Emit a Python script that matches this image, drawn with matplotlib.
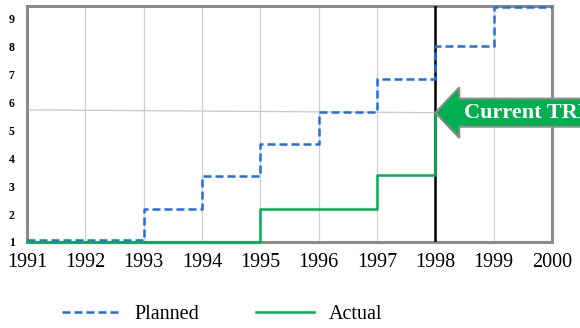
import matplotlib
matplotlib.use("Agg")
import matplotlib.pyplot as plt
from matplotlib.patches import Polygon
from matplotlib.lines import Line2D

# Years on the x axis
years = [1991, 1992, 1993, 1994, 1995, 1996, 1997, 1998, 1999, 2000]
year_labels = [str(y) for y in years]
level_ticks = [1, 2, 3, 4, 5, 6, 7, 8, 9]

# Planned TRL: step changes (steps-post)
planned_x = [1991, 1993, 1994, 1995, 1996, 1997, 1998, 1999, 2000]
planned_y = [1.07, 2.18, 3.37, 4.51, 5.64, 6.83, 8.0, 9.38, 9.38]

# Actual TRL: step changes (steps-post)
actual_x = [1991, 1995, 1997, 1998]
actual_y = [1.0, 2.18, 3.39, 5.62]

current_year = 1998
current_label = "Current TRL"

blue = "#1f6fe0"
green = "#00b050"
serif = "Liberation Serif"

fig = plt.figure(figsize=(5.8, 3.28), dpi=100)
ax = fig.add_axes([27 / 580, 1 - 242 / 328, 525 / 580, 236 / 328])

ax.set_xlim(1991, 2000)
ax.set_ylim(1, 9.43)

ax.set_xticks(years)
ax.set_xticklabels(year_labels, fontfamily=serif, fontsize=14.5)
ax.set_yticks(level_ticks)
ax.set_yticklabels([str(v) for v in level_ticks], fontfamily=serif,
                   fontsize=8.5, fontweight="bold")
ax.tick_params(axis="both", length=0)
ax.tick_params(axis="x", pad=8)
ax.tick_params(axis="y", pad=9)

ax.grid(axis="x", color="#cfcfcf", linewidth=0.9)
ax.set_axisbelow(True)
for s in ax.spines.values():
    s.set_color("#8c8c8c")
    s.set_linewidth(2.2)

# thin reference line at the current level
ax.plot([1991, current_year], [5.72, actual_y[-1]], color="#c8c8c8",
        linewidth=0.9, zorder=1)

ax.axvline(current_year, color="black", linewidth=1.8, zorder=3)

ax.plot(planned_x, planned_y, drawstyle="steps-post", color=blue,
        linewidth=1.8, linestyle=(0, (3.2, 1.6)), zorder=4, clip_on=False)
ax.plot(actual_x, actual_y, drawstyle="steps-post", color=green,
        linewidth=1.8, zorder=5, clip_on=False)

# Arrow pointing at the current level
tip_x, tip_y = current_year, actual_y[-1]
head_len, head_half, shaft_half = 0.41, 0.9, 0.5
arrow_pts = [
    (tip_x, tip_y),
    (tip_x + head_len, tip_y + head_half),
    (tip_x + head_len, tip_y + shaft_half),
    (tip_x + 3.0, tip_y + shaft_half),
    (tip_x + 3.0, tip_y - shaft_half),
    (tip_x + head_len, tip_y - shaft_half),
    (tip_x + head_len, tip_y - head_half),
]
ax.add_patch(Polygon(arrow_pts, closed=True, facecolor=green,
                     edgecolor="#8a8a8a", linewidth=1.5, zorder=6,
                     clip_on=False))
ax.text(tip_x + 0.5, tip_y - 0.02, current_label, color="white",
        fontfamily=serif, fontweight="bold", fontsize=16,
        ha="left", va="center", zorder=7, clip_on=False)

handles = [
    Line2D([], [], color=blue, linewidth=1.8, linestyle=(0, (3.2, 1.6))),
    Line2D([], [], color=green, linewidth=1.8),
]
fig.legend(handles, ["Planned", "Actual"], loc="center",
           bbox_to_anchor=(222 / 580, 1 - 314 / 328), ncol=2, frameon=False,
           prop={"family": serif, "size": 14.5}, handlelength=2.9,
           handletextpad=0.7, columnspacing=2.8)

fig.savefig("out.png", dpi=100)
